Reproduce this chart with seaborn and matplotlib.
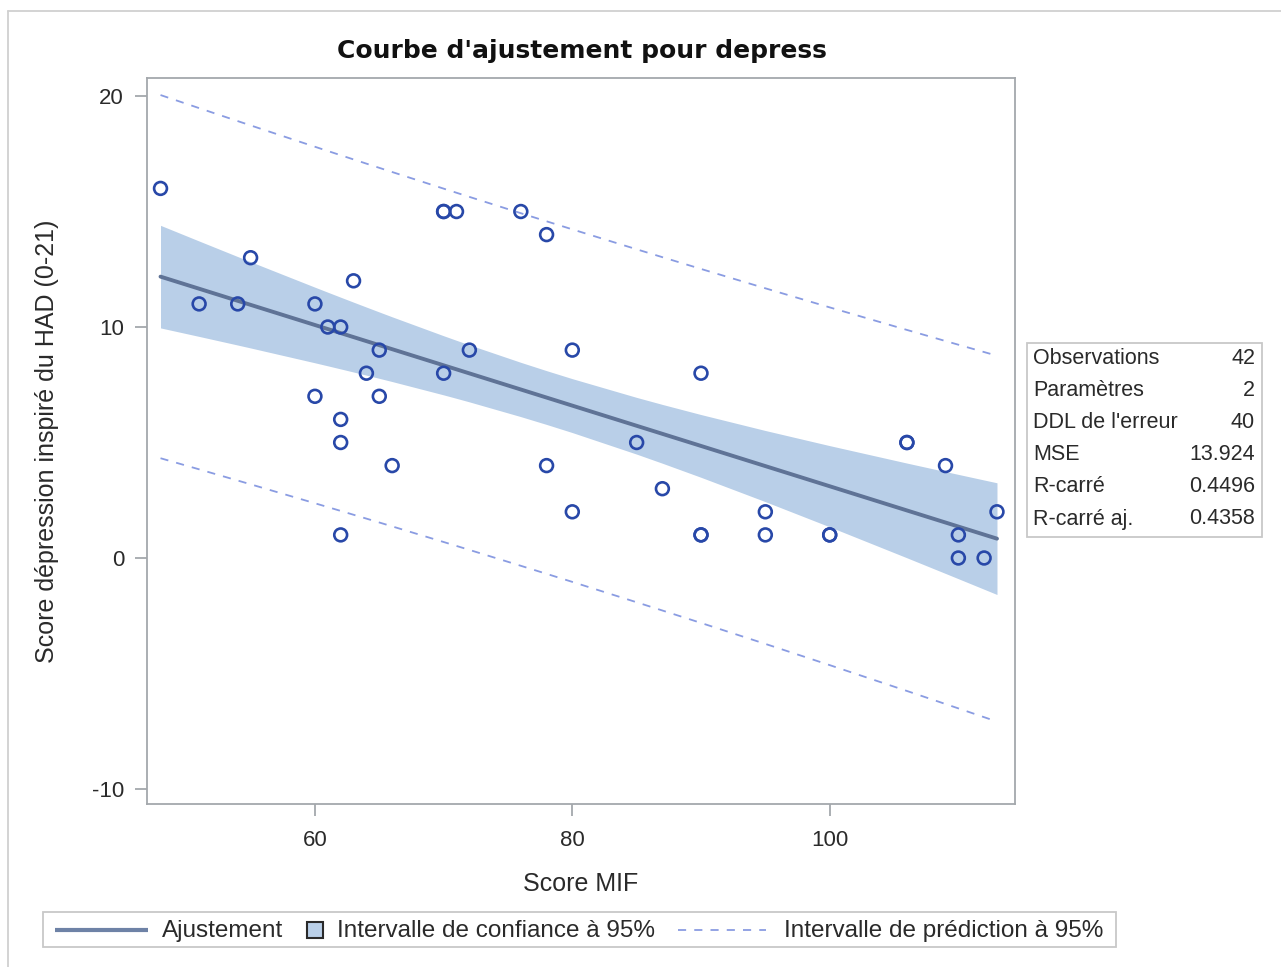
import numpy as np
import pandas as pd
import matplotlib
matplotlib.use("Agg")
import matplotlib.pyplot as plt
from matplotlib.lines import Line2D
from matplotlib.patches import Rectangle
import seaborn as sns

# ---- data (42 observations, some overlapping) ----
mif = [48, 51, 54, 55, 60, 60, 61, 62, 63, 62, 62, 62, 64, 65, 65, 66, 70, 71, 70, 72,
       76, 78, 78, 80, 80, 85, 87, 90, 90, 95, 95, 100, 106, 109, 110, 110, 112, 113,
       70, 90, 100, 106]
depress = [16, 11, 11, 13, 11, 7, 10, 10, 12, 6, 5, 1, 8, 9, 7, 4, 15, 15, 8, 9,
           15, 14, 4, 9, 2, 5, 3, 8, 1, 2, 1, 1, 5, 4, 1, 0, 0, 2,
           15, 1, 1, 5]
stat_labels = ["Observations", "Paramètres", "DDL de l'erreur", "MSE", "R-carré", "R-carré aj."]
stat_values = ["42", "2", "40", "13.924", "0.4496", "0.4358"]
x_ticks = [60, 80, 100]
y_ticks = [-10, 0, 10, 20]

title = "Courbe d'ajustement pour depress"
xlabel = "Score MIF"
ylabel = "Score dépression inspiré du HAD (0-21)"
leg_labels = ["Ajustement", "Intervalle de confiance à 95%", "Intervalle de prédiction à 95%"]

# ---- style ----
sns.set_theme(style="white")
plt.rcParams["font.family"] = ["Liberation Sans", "DejaVu Sans"]
plt.rcParams["axes.unicode_minus"] = False

C_MARK = "#2848A8"
C_FIT = "#5F7396"
C_FIT_LEG = "#6E82A6"
C_CI = "#B9CFE8"
C_PI = "#8A9CE2"
C_FRAME = "#A4A8AC"
C_TXT = "#2A2A2A"

df = pd.DataFrame({"mif": mif, "depress": depress})

# OLS fit with 95% confidence and prediction limits, evaluated at the observed x values
x = df["mif"].to_numpy(float)
y = df["depress"].to_numpy(float)
n = len(x)
b1, b0 = np.polyfit(x, y, 1)
resid = y - (b0 + b1 * x)
mse = np.sum(resid ** 2) / (n - 2)
sxx = np.sum((x - x.mean()) ** 2)
tval = 2.021
xg = np.unique(x)
yg = b0 + b1 * xg
se_m = np.sqrt(mse * (1 / n + (xg - x.mean()) ** 2 / sxx))
se_p = np.sqrt(mse * (1 + 1 / n + (xg - x.mean()) ** 2 / sxx))
fit = pd.DataFrame({"x": xg, "fit": yg,
                    "clm_lo": yg - tval * se_m, "clm_hi": yg + tval * se_m,
                    "pi_lo": yg - tval * se_p, "pi_hi": yg + tval * se_p})

W, H = 1281, 967
fig = plt.figure(figsize=(W / 100, H / 100), dpi=100)
ax = fig.add_axes([147 / W, 1 - 804 / H, (1015 - 147) / W, (804 - 78) / H])

DASH = (0, (4.5, 4.5))
ax.fill_between(fit["x"], fit["clm_lo"], fit["clm_hi"], color=C_CI, lw=0, zorder=1)
sns.lineplot(data=fit, x="x", y="fit", ax=ax, color=C_FIT, lw=2.8, zorder=3)
sns.lineplot(data=fit, x="x", y="pi_hi", ax=ax, color=C_PI, lw=1.3, zorder=2)
sns.lineplot(data=fit, x="x", y="pi_lo", ax=ax, color=C_PI, lw=1.3, zorder=2)
for ln in ax.lines[1:]:
    ln.set_linestyle(DASH)
sns.scatterplot(data=df, x="mif", y="depress", ax=ax, marker="o", s=85,
                facecolor="none", edgecolor=C_MARK, linewidth=1.9, zorder=4)

ax.set_xlim(46.95, 114.4)
ax.set_ylim(-10.65, 20.78)
ax.set_xticks(x_ticks)
ax.set_yticks(y_ticks)
ax.tick_params(axis="both", which="both", direction="out", length=8.5, width=1.3,
               color=C_FRAME, labelsize=16, labelcolor=C_TXT, left=True, bottom=True)
ax.tick_params(axis="x", pad=10)
ax.tick_params(axis="y", pad=8)
for sp in ax.spines.values():
    sp.set_color(C_FRAME)
    sp.set_linewidth(1.3)
ax.set_xlabel(xlabel, fontsize=18, color=C_TXT)
ax.set_ylabel(ylabel, fontsize=18, color=C_TXT)
ax.xaxis.set_label_coords(0.5, -0.094)
ax.yaxis.set_label_coords(-0.101, 0.5)
fig.text(582 / W, 1 - 51 / H, title, fontsize=18, fontweight="bold", color="#111111",
         ha="center", va="center", family=["DejaVu Sans"])

# fit statistics inset
fig.add_artist(Rectangle((1027 / W, 1 - 537 / H), (1262 - 1027) / W, (537 - 343) / H,
                         transform=fig.transFigure, facecolor="white",
                         edgecolor="#C8C8C8", lw=1.3))
for i, (lab, val) in enumerate(zip(stat_labels, stat_values)):
    ypx = 359 + i * 32.0
    fig.text(1033 / W, 1 - ypx / H, lab, fontsize=15.5, color=C_TXT, va="center", ha="left")
    fig.text(1255 / W, 1 - ypx / H, val, fontsize=15.5, color=C_TXT, va="center", ha="right")

# legend (drawn as a row of keys in a framed box)
ly = 1 - 931 / H
fig.add_artist(Rectangle((43 / W, 1 - 947 / H), (1116 - 43) / W, (947 - 912) / H,
                         transform=fig.transFigure, facecolor="white",
                         edgecolor="#C8C8C8", lw=1.3))
fig.add_artist(Line2D([55 / W, 148 / W], [1 - 930 / H, 1 - 930 / H], transform=fig.transFigure,
                      color=C_FIT_LEG, lw=3.0, solid_capstyle="butt"))
fig.text(162 / W, ly, leg_labels[0], fontsize=17.5, color=C_TXT, va="center", ha="left")
fig.add_artist(Rectangle((307 / W, 1 - 938 / H), 16 / W, 16 / H, transform=fig.transFigure,
                         facecolor=C_CI, edgecolor="#2A2A2A", lw=1.5))
fig.text(337 / W, ly, leg_labels[1], fontsize=17.5, color=C_TXT, va="center", ha="left")
fig.add_artist(Line2D([678 / W, 766 / W], [1 - 930 / H, 1 - 930 / H], transform=fig.transFigure,
                      color=C_PI, lw=1.3, linestyle=DASH))
fig.text(784 / W, ly, leg_labels[2], fontsize=17.5, color=C_TXT, va="center", ha="left")

# outer frame (top / left)
fig.add_artist(Line2D([8 / W, 1], [1 - 10.5 / H, 1 - 10.5 / H], transform=fig.transFigure,
                      color="#D0D0D0", lw=1.3))
fig.add_artist(Line2D([8 / W, 8 / W], [0, 1 - 10.5 / H], transform=fig.transFigure,
                      color="#D0D0D0", lw=1.3))

fig.savefig("out.png", dpi=100, facecolor="white")
